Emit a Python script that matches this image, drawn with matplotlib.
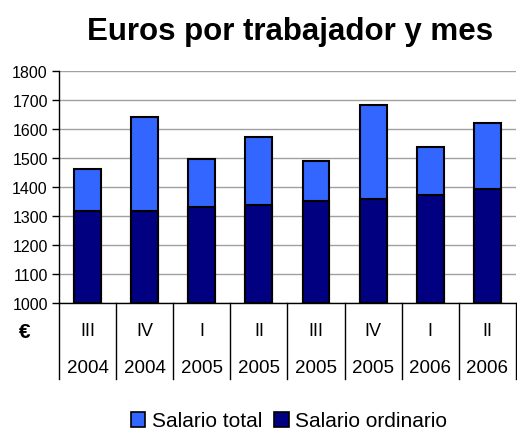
import matplotlib.pyplot as plt
from matplotlib.patches import Patch
from matplotlib.transforms import blended_transform_factory

plt.rcParams["font.family"] = ["Liberation Sans", "DejaVu Sans"]

quarters = ["III", "IV", "I", "II", "III", "IV", "I", "II"]
years = ["2004", "2004", "2005", "2005", "2005", "2005", "2006", "2006"]
salario_total = [1463, 1642, 1498, 1572, 1491, 1684, 1538, 1622]
salario_ordinario = [1317, 1318, 1332, 1339, 1353, 1360, 1373, 1394]

c_total = "#3366FF"
c_ord = "#000080"

fig = plt.figure(figsize=(5.17, 4.35), dpi=100)
ax = fig.add_axes([0.114, 0.3005, 0.884, 0.534])

x = list(range(len(quarters)))
ax.bar(x, [t - 1000 for t in salario_total], bottom=1000, width=0.47,
       color=c_total, edgecolor="black", linewidth=1.5, zorder=3)
ax.bar(x, [o - 1000 for o in salario_ordinario], bottom=1000, width=0.47,
       color=c_ord, edgecolor="black", linewidth=1.5, zorder=4)

ax.set_xlim(-0.5, len(quarters) - 0.5)
ax.set_ylim(1000, 1800)
ax.set_yticks(range(1000, 1801, 100))
ax.tick_params(axis="y", labelsize=11.5, length=5, width=1, pad=3)
ax.set_xticks([])
ax.grid(axis="y", color="#A0A0A0", linewidth=1, zorder=0)
ax.set_axisbelow(True)
for s in ("top", "right"):
    ax.spines[s].set_visible(False)
ax.spines["left"].set_linewidth(1)
ax.spines["bottom"].set_linewidth(1)

# category table under the axis
tr = blended_transform_factory(ax.transData, ax.transAxes)
for i in range(len(quarters) + 1):
    ax.plot([i - 0.5, i - 0.5], [0, -0.327], color="black", linewidth=1,
            transform=tr, clip_on=False)
for i, (q, yr) in enumerate(zip(quarters, years)):
    ax.text(i, -0.118, q, transform=tr, ha="center", va="center", fontsize=13)
    ax.text(i, -0.276, yr, transform=tr, ha="center", va="center", fontsize=13.5)
fig.text(25 / 517, 1 - 332 / 435, "€", ha="center", va="center",
         fontsize=15, fontweight="bold")

fig.text(290 / 517, 1 - 32 / 435, "Euros por trabajador y mes",
         ha="center", va="center", fontsize=22.5, fontweight="bold")

handles = [Patch(facecolor=c_total, edgecolor="black", linewidth=1.2),
           Patch(facecolor=c_ord, edgecolor="black", linewidth=1.2)]
fig.legend(handles, ["Salario total", "Salario ordinario"], loc="center",
           bbox_to_anchor=(289 / 517, 1 - 422 / 435), ncol=2, frameon=False,
           fontsize=15, handlelength=0.7, handleheight=0.7,
           handletextpad=0.3, columnspacing=0.6)

fig.savefig("out.png", dpi=100)
